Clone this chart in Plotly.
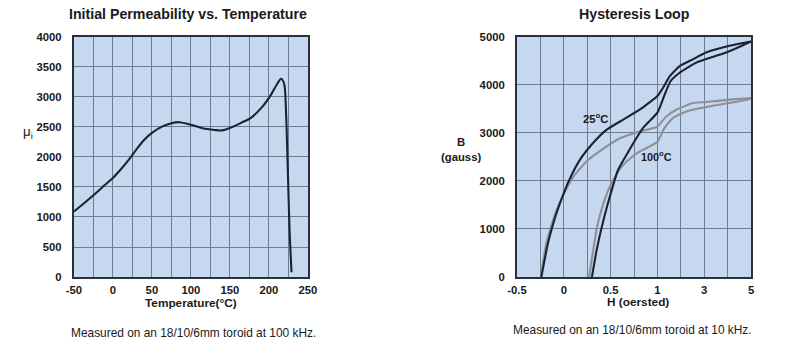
import plotly.graph_objects as go

# ---------------- data ----------------
# Left: initial permeability vs temperature
temp_c = [-50, -40, -25, -10, 0, 10, 20, 30, 40, 50, 65, 75, 85, 100, 115, 130, 140, 150,
          165, 177, 192, 203, 210, 215.5, 219.5, 222, 224, 226.5, 229]
mu_i = [1090, 1195, 1360, 1535, 1650, 1790, 1945, 2120, 2280, 2400, 2515, 2560, 2577, 2535,
        2475, 2448, 2440, 2480, 2570, 2650, 2840, 3040, 3200, 3300, 3220, 2730, 1900, 780, 80]
temp_ticks = [-50, 0, 50, 100, 150, 200, 250]

# Right: hysteresis loops (H in oersted, B in gauss)
h25_desc = [5.0, 4.08, 3.08, 2.51, 1.95, 1.53, 1.24, 1.0, 0.81, 0.63, 0.455, 0.31, 0.17,
            0.044, -0.009, -0.062, -0.115, -0.17, -0.24]
b25_desc = [4900, 4810, 4670, 4528, 4388, 4178, 3935, 3765, 3480, 3270, 3061, 2782, 2432,
            1960, 1700, 1420, 1100, 700, 0]
h25_asc = [0.30, 0.345, 0.38, 0.436, 0.49, 0.578, 0.70, 0.845, 1.0, 1.28, 1.56, 1.95, 2.66,
           3.94, 5.0]
b25_asc = [0, 500, 830, 1280, 1662, 2222, 2642, 3096, 3420, 3759, 4073, 4250, 4460, 4670, 4900]
h100_desc = [5.0, 4.08, 3.08, 2.52, 1.81, 1.38, 1.0, 0.81, 0.6, 0.4, 0.24, 0.1, 0.0, -0.08,
             -0.15, -0.19, -0.245]
b100_desc = [3725, 3690, 3640, 3620, 3480, 3340, 3131, 3026, 2887, 2640, 2400, 2080, 1730,
             1384, 964, 680, 0]
h100_asc = [0.27, 0.33, 0.347, 0.40, 0.49, 0.60, 0.68, 0.80, 0.90, 1.0, 1.3, 1.66, 2.23, 3.08,
            4.08, 5.0]
b100_asc = [0, 755, 964, 1384, 1872, 2250, 2420, 2600, 2700, 2816, 3096, 3306, 3445, 3537,
            3620, 3710]
h_ticks = [-0.5, 0, 0.5, 1, 3, 5]

# ---------------- layout helpers ----------------
# Figure 800x342 inside the page's default 8px body margin; the captured page
# (816x358) is scaled to 800x342, so target positions are mapped accordingly.
FW, FH, OFF = 800, 342, 8
SX, SY = 800 / 816, 342 / 358


def hx(h):
    # piecewise H axis: 0.25 Oe per division up to 1, then 1 Oe per division
    return (h + 0.5) / 0.25 if h <= 1 else 6 + (h - 1)


def px(x):
    return (x / SX - OFF) / FW


def py(y):
    return 1 - (y / SY - OFF) / FH


DARK = "#1b2233"
GREY = "#8d9096"
FONT = "Liberation Sans, Arial, Helvetica, sans-serif"

fig = go.Figure()
fig.add_trace(go.Scatter(x=temp_c, y=mu_i, mode="lines", xaxis="x", yaxis="y",
                         line=dict(color=DARK, width=2.1, shape="spline", smoothing=0.8),
                         showlegend=False, hoverinfo="skip"))

for hs, bs, col in [(h100_desc, b100_desc, GREY), (h100_asc, b100_asc, GREY),
                    (h25_desc, b25_desc, DARK), (h25_asc, b25_asc, DARK)]:
    fig.add_trace(go.Scatter(x=[hx(v) for v in hs], y=bs, mode="lines", xaxis="x2",
                             yaxis="y2",
                             line=dict(color=col, width=2.1, shape="spline", smoothing=0.5),
                             showlegend=False, hoverinfo="skip"))

axis_common = dict(showline=True, mirror=True, linecolor="#2b3038", linewidth=2,
                   showgrid=True, gridcolor="#6e7d92", gridwidth=1, zeroline=False,
                   ticks="", ticklen=0,
                   tickfont=dict(family=FONT, size=11.3, color="#1a1a1a", weight="bold"),
                   fixedrange=True)

y_dom = [py(276), py(38)]
fig.update_layout(
    width=FW, height=FH, margin=dict(l=0, r=0, t=0, b=0),
    paper_bgcolor="white", plot_bgcolor="#c6d8f0",
    xaxis=dict(domain=[px(72), px(307)], range=[-50, 250], anchor="y",
               tickvals=temp_ticks, ticktext=[str(t) for t in temp_ticks],
               minor=dict(dtick=25, tick0=-50, showgrid=True, gridcolor="#6e7d92",
                          gridwidth=1),
               ticklabelstandoff=1, **axis_common),
    yaxis=dict(domain=y_dom, range=[0, 4000], anchor="x", dtick=500,
               ticklabelstandoff=8, **axis_common),
    xaxis2=dict(domain=[px(517), px(752)], range=[0, 10], anchor="y2",
                tickvals=[hx(v) for v in h_ticks], ticktext=[str(v) for v in h_ticks],
                minor=dict(dtick=1, tick0=0, showgrid=True, gridcolor="#6e7d92",
                           gridwidth=1),
                ticklabelstandoff=1, **axis_common),
    yaxis2=dict(domain=y_dom, range=[0, 5000], anchor="x2", dtick=1000,
                ticklabelstandoff=8, **axis_common),
)

anns = [
    ("Initial Permeability vs. Temperature", 187, 16, 14.2, "bold"),
    ("Hysteresis Loop", 634.5, 16, 14.2, "bold"),
    ("Temperature(°C)", 190, 302, 11.8, "bold"),
    ("H (oersted)", 639, 301, 11.8, "bold"),
    ("Measured on an 18/10/6mm toroid at 100 kHz.", 192, 331, 11.9, "normal"),
    ("Measured on an 18/10/6mm toroid at 10 kHz.", 632.5, 328, 11.9, "normal"),
    ("μ<sub>i</sub>", 26, 133, 13.3, "normal"),
    ("B<br>(gauss)", 461, 150, 11.3, "bold"),
    ("25<sup>o</sup>C", 596, 119, 11.2, "bold"),
    ("100<sup>o</sup>C", 657.5, 156, 10.8, "bold"),
]
for text, x, y, size, wt in anns:
    fig.add_annotation(text=text, x=px(x), y=py(y), xref="paper", yref="paper",
                       xanchor="center", yanchor="middle", showarrow=False,
                       font=dict(family=FONT, size=size, color="#1a1a1a", weight=wt))

fig.write_html("out.html")
